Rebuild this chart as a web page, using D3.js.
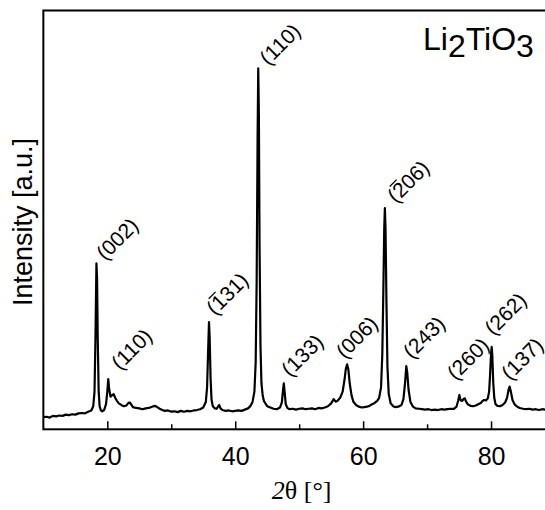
<!DOCTYPE html>
<html>
<head>
<meta charset="utf-8">
<script src="https://cdn.jsdelivr.net/npm/d3@7"></script>
<style>
  body { margin: 0; background: #fff; }
  svg { display: block; }
  text { font-family: "Liberation Sans", Arial, sans-serif; fill: #000; }
</style>
</head>
<body>
<div id="chart"></div>
<script>
// XRD pattern (intensity in arbitrary units, 0..100 = plot height)
var twoTheta = [10.0, 10.5, 11.0, 11.5, 12.0, 12.5, 13.0, 13.5, 14.0, 14.5, 15.0, 15.5, 16.0, 16.5, 17.0, 17.5, 17.8, 18.0, 18.15, 18.3, 18.4, 18.5, 18.65, 18.8, 19.0, 19.2, 19.5, 19.8, 20.0, 20.15, 20.3, 20.5, 20.8, 21.0, 21.2, 21.5, 21.8, 22.0, 22.3, 22.6, 23.0, 23.3, 23.5, 23.8, 24.0, 24.5, 25.0, 25.5, 26.0, 26.5, 27.0, 27.4, 27.8, 28.2, 28.6, 29.0, 29.5, 30.0, 30.5, 31.0, 31.5, 32.0, 32.5, 33.0, 33.5, 34.0, 34.5, 35.0, 35.4, 35.6, 35.75, 35.9, 36.0, 36.15, 36.3, 36.5, 36.8, 37.1, 37.35, 37.5, 37.7, 38.0, 38.5, 39.0, 39.5, 40.0, 40.5, 41.0, 41.5, 42.0, 42.4, 42.7, 43.0, 43.2, 43.35, 43.5, 43.6, 43.7, 43.8, 43.95, 44.1, 44.3, 44.5, 44.8, 45.0, 45.5, 46.0, 46.5, 47.0, 47.3, 47.45, 47.6, 47.75, 47.9, 48.2, 48.5, 49.0, 49.5, 50.0, 50.5, 51.0, 51.5, 52.0, 52.5, 53.0, 53.5, 54.0, 54.5, 55.0, 55.4, 55.7, 56.0, 56.4, 56.8, 57.1, 57.3, 57.5, 57.7, 57.9, 58.2, 58.5, 58.9, 59.3, 59.8, 60.2, 60.6, 61.0, 61.4, 61.8, 62.2, 62.5, 62.8, 63.0, 63.15, 63.3, 63.4, 63.5, 63.65, 63.8, 64.0, 64.3, 64.7, 65.0, 65.5, 66.0, 66.3, 66.55, 66.75, 66.9, 67.1, 67.4, 67.8, 68.2, 68.7, 69.2, 69.7, 70.2, 70.7, 71.2, 71.7, 72.2, 72.7, 73.2, 73.7, 74.2, 74.6, 74.85, 75.05, 75.25, 75.5, 75.75, 75.9, 76.1, 76.4, 76.8, 77.2, 77.6, 78.0, 78.4, 78.7, 78.9, 79.2, 79.5, 79.7, 79.85, 80.0, 80.1, 80.2, 80.35, 80.5, 80.7, 81.0, 81.4, 81.8, 82.2, 82.5, 82.75, 82.9, 83.1, 83.35, 83.7, 84.1, 84.5, 85.0, 85.5, 86.0, 86.5, 87.0, 87.5, 88.0, 88.5, 89.0, 89.5, 90.0];
var intensity = [2.9, 3.0, 2.8, 3.2, 3.1, 3.3, 3.2, 3.5, 3.4, 3.6, 3.5, 3.8, 3.9, 3.8, 4.2, 4.5, 5.5, 9, 22, 39.6, 36, 22, 9, 5.5, 4.5, 4.3, 4.6, 6, 9, 12.0, 9.5, 7.8, 8.2, 8.4, 7.6, 6.8, 6.2, 6.0, 5.7, 5.5, 5.7, 6.3, 6.4, 5.8, 5.3, 5.1, 5.0, 4.8, 5.0, 5.1, 5.4, 5.6, 5.3, 4.9, 4.6, 4.4, 4.5, 4.2, 4.3, 4.1, 4.4, 4.2, 4.4, 4.3, 4.5, 4.6, 4.8, 5.2, 6.5, 10, 18, 25.6, 22, 12, 7, 5.5, 5.0, 4.9, 5.5, 5.8, 5.0, 4.6, 4.4, 4.5, 4.3, 4.4, 4.5, 4.4, 4.7, 5.0, 5.6, 6.5, 9, 16, 35, 70, 86.2, 75, 45, 20, 11, 8, 6.7, 6.0, 5.5, 5.2, 4.9, 4.8, 5.2, 6.5, 9, 11.0, 8.5, 6, 5.0, 4.8, 4.9, 4.7, 4.9, 5.0, 4.8, 4.9, 5.0, 4.8, 5.1, 5.0, 5.2, 5.5, 6.2, 7.2, 6.6, 6.8, 7.5, 9, 12, 14.5, 15.5, 14.2, 11, 8, 6.5, 5.8, 5.4, 5.2, 5.3, 5.4, 5.6, 6.0, 6.3, 6.8, 7.5, 10, 18, 32, 48, 52.8, 48, 30, 15, 8.5, 6.2, 5.5, 5.3, 5.4, 5.8, 7.2, 11, 15.1, 13.5, 9.5, 6.5, 5.4, 5.0, 4.9, 4.8, 4.7, 4.8, 4.6, 4.7, 4.6, 4.8, 4.7, 4.8, 4.9, 4.9, 5.4, 6.8, 8.2, 6.9, 6.8, 7.3, 7.4, 6.6, 5.9, 5.6, 5.5, 5.7, 6.0, 6.3, 6.8, 7.0, 6.9, 7.4, 9, 13, 18, 19.7, 17.5, 11, 7.6, 6.0, 5.6, 5.5, 5.8, 6.4, 7.5, 9.5, 10.2, 9.0, 7.0, 5.9, 5.4, 5.1, 4.9, 4.8, 4.9, 4.7, 4.8, 4.6, 4.8, 4.7, 4.8, 4.7, 4.8];

// reflection labels and where each label starts (2theta, intensity)
var hklLabels = ['(002)', '(110)', '(131)', '(110)', '(133)', '(006)', '(206)', '(243)', '(260)', '(262)', '(137)'];
var hklBar = [-1, -1, 1, -1, -1, -1, 1, -1, -1, -1, -1];
var labelTheta = [19.63, 21.98, 36.83, 45.17, 48.56, 57.11, 65.14, 67.6, 74.47, 80.35, 82.96];
var labelLevel = [40.1, 13.9, 27.0, 86.7, 12.3, 16.6, 53.8, 16.6, 11.5, 22.2, 11.5];

var majorTicks = [20, 40, 60, 80];
var minorTicks = [30, 50, 70, 90];

var width = 545, height = 510;
var mLeft = 43.35, mRight = 555, mTop = 10.5, mBottom = 429.3;

var svg = d3.select('#chart').append('svg')
    .attr('width', width)
    .attr('height', height);

var x = d3.scaleLinear().domain([10, 90]).range([mLeft, mRight]);
var y = d3.scaleLinear().domain([0, 100]).range([mBottom, mTop]);

var pts = twoTheta.map(function(t, i) { return [t, intensity[i]]; });

svg.append('path')
    .datum(pts)
    .attr('fill', 'none')
    .attr('stroke', '#000')
    .attr('stroke-width', 2.2)
    .attr('stroke-linejoin', 'round')
    .attr('d', d3.line()
        .x(function(d) { return x(d[0]); })
        .y(function(d) { return y(d[1]); }));

// frame
svg.append('rect')
    .attr('x', mLeft).attr('y', mTop)
    .attr('width', mRight - mLeft).attr('height', mBottom - mTop)
    .attr('fill', 'none')
    .attr('stroke', '#000')
    .attr('stroke-width', 2);

var xAxis = svg.append('g')
    .attr('transform', 'translate(0,' + mBottom + ')')
    .call(d3.axisBottom(x).tickValues(majorTicks).tickSizeInner(-8).tickSizeOuter(0).tickPadding(17.5));
xAxis.select('.domain').remove();
xAxis.selectAll('line').attr('stroke-width', 1.5);
xAxis.selectAll('text')
    .style('font-family', '"Liberation Sans", Arial, sans-serif')
    .style('font-size', '25px');

var xMinor = svg.append('g')
    .attr('transform', 'translate(0,' + mBottom + ')')
    .call(d3.axisBottom(x).tickValues(minorTicks).tickSizeInner(-5).tickSizeOuter(0).tickFormat(''));
xMinor.select('.domain').remove();
xMinor.selectAll('line').attr('stroke-width', 1.5);

var xLab = svg.append('text')
    .attr('x', 301.7).attr('y', 499)
    .attr('text-anchor', 'middle')
    .style('font-family', '"Liberation Serif", "Times New Roman", serif')
    .style('font-size', '26px');
xLab.append('tspan').style('font-style', 'italic').text('2');
xLab.append('tspan').text('θ [°]');

svg.append('text')
    .attr('transform', 'translate(32,222) rotate(-90)')
    .attr('text-anchor', 'middle')
    .style('font-size', '27px')
    .text('Intensity [a.u.]');

var title = svg.append('text')
    .attr('x', 423).attr('y', 50)
    .style('font-size', '32px');
title.append('tspan').text('Li');
title.append('tspan').attr('dy', 7).text('2');
title.append('tspan').attr('dy', -7).text('TiO');
title.append('tspan').attr('dy', 7).text('3');

// peak labels, rotated 45 degrees
var labFs = 21;
hklLabels.forEach(function(lab, i) {
    var g = svg.append('g')
        .attr('transform', 'translate(' + x(labelTheta[i]) + ',' + y(labelLevel[i]) + ') rotate(-45)');
    var t = g.append('text')
        .style('font-size', labFs + 'px')
        .text(lab);
    if (hklBar[i] >= 0) {
        var n = t.node();
        var a = n.getStartPositionOfChar(hklBar[i]).x;
        var b = n.getEndPositionOfChar(hklBar[i]).x;
        g.append('line')
            .attr('x1', a + 1).attr('x2', b - 1)
            .attr('y1', -labFs * 0.8).attr('y2', -labFs * 0.8)
            .attr('stroke', '#000')
            .attr('stroke-width', 1.3);
    }
});
</script>
</body>
</html>
